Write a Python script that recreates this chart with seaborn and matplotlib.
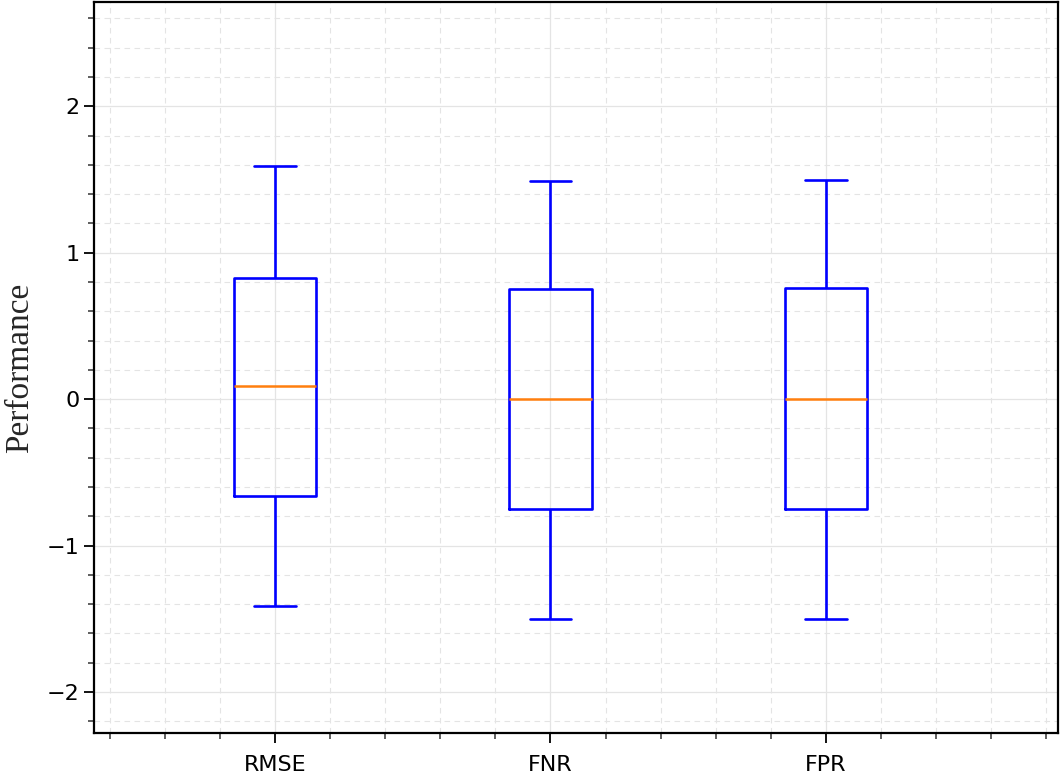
import numpy as np
import pandas as pd
import matplotlib
matplotlib.use("Agg")
import matplotlib.pyplot as plt
from matplotlib.ticker import MultipleLocator
import seaborn as sns

# Box summary values (whisker low, Q1, median, Q3, whisker high)
categories = ["RMSE", "FNR", "FPR"]
rmse_vals = [-1.41, -0.66, 0.09, 0.83, 1.59]
fnr_vals = [-1.50, -0.75, 0.00, 0.75, 1.49]
fpr_vals = [-1.50, -0.75, 0.00, 0.76, 1.50]
y_ticks = [-2, -1, 0, 1, 2]

df = pd.DataFrame({
    "metric": np.repeat(categories, 5),
    "value": rmse_vals + fnr_vals + fpr_vals,
})

sns.set_style("white")
fig = plt.figure(figsize=(10.61, 7.76), dpi=100)
ax = fig.add_axes([0.0886, 0.0554, 0.9084, 0.9416])

sns.boxplot(data=df, x="metric", y="value", order=categories, ax=ax,
            fill=False, color="#0000ff", linecolor="#0000ff", linewidth=1.9,
            width=0.3, whis=1.5, showfliers=False,
            medianprops=dict(color="#ff7f0e", linewidth=1.8))

ax.set_xlim(-0.657, 2.842)
ax.set_ylim(-2.28, 2.71)
ax.set_yticks(y_ticks)
ax.set_yticklabels(["\u22122", "\u22121", "0", "1", "2"])
ax.xaxis.set_minor_locator(MultipleLocator(0.2))
ax.yaxis.set_minor_locator(MultipleLocator(0.2))

ax.grid(which="major", color="#e4e4e4", linestyle="-", linewidth=0.9)
ax.grid(which="minor", color="#e4e4e4", linestyle=(0, (5, 4)), linewidth=0.8)
ax.set_axisbelow(True)

for s in ax.spines.values():
    s.set_visible(True)
    s.set_color("black")
    s.set_linewidth(1.6)

ax.tick_params(which="major", direction="out", length=7, width=1.3,
               labelsize=16, color="black", labelcolor="black", bottom=True, left=True)
ax.tick_params(which="minor", direction="out", length=4, width=1.1,
               color="#333333", bottom=True, left=True)
ax.tick_params(axis="x", which="major", pad=9)

ax.set_xlabel("")
ax.set_ylabel("Performance", fontsize=24, family="Liberation Serif", labelpad=8)

fig.savefig("out.png", dpi=100)
